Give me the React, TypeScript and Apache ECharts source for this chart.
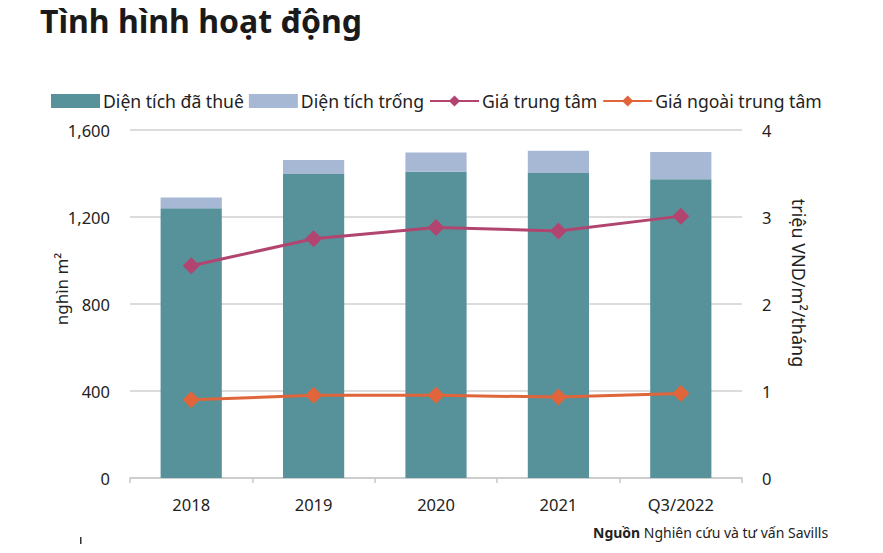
import React, { useEffect, useRef } from "react";
import * as echarts from "echarts";

const categories = ["2018", "2019", "2020", "2021", "Q3/2022"];
const leasedArea = [1240, 1398, 1408, 1402, 1373];
const vacantArea = [50, 64, 88, 103, 126];
const centralPrice = [2.44, 2.75, 2.88, 2.84, 3.01];
const outerPrice = [0.9, 0.95, 0.95, 0.93, 0.97];
const leftTicks = { min: 0, max: 1600, interval: 400 };
const rightTicks = { min: 0, max: 4, interval: 1 };

const FONT = "'Noto Sans', 'Open Sans', sans-serif";

export default function App() {
  const ref = useRef<HTMLDivElement>(null);
  useEffect(() => {
    if (!ref.current) return;
    const chart = echarts.init(ref.current, undefined, { renderer: "svg" });
    chart.setOption({
      animation: false,
      backgroundColor: "#ffffff",
      textStyle: { fontFamily: FONT },
      legend: {
        left: 46,
        top: 87,
        itemWidth: 49,
        itemHeight: 14,
        itemGap: 5,
        textStyle: { fontSize: 17.6, color: "#222", fontFamily: FONT, padding: [0, 0, 0, -2] },
        data: [
          { name: "Diện tích đã thuê", icon: "rect" },
          { name: "Diện tích trống", icon: "rect" },
          { name: "Giá trung tâm" },
          { name: "Giá ngoài trung tâm" },
        ],
      },
      grid: { left: 130, right: 141, top: 130, bottom: 75, containLabel: false },
      xAxis: {
        type: "category",
        data: categories,
        axisLine: { lineStyle: { color: "#c8c8c8", width: 1.5 } },
        axisTick: { show: true, length: 5, lineStyle: { color: "#c8c8c8", width: 1.5 } },
        axisLabel: { fontSize: 16.5, color: "#222", margin: 18, fontFamily: FONT },
      },
      yAxis: [
        {
          type: "value",
          ...leftTicks,
          axisLine: { show: false },
          axisTick: { show: false },
          splitLine: { lineStyle: { color: "#d0d0d0", width: 1.5 } },
          axisLabel: {
            fontSize: 16.5,
            color: "#222",
            margin: 20,
            fontFamily: FONT,
            formatter: (v: number) => v.toLocaleString("en-US"),
          },
        },
        {
          type: "value",
          ...rightTicks,
          axisLine: { show: false },
          axisTick: { show: false },
          splitLine: { show: false },
          axisLabel: { fontSize: 16.5, color: "#222", margin: 20, fontFamily: FONT },
        },
      ],
      graphic: [
        {
          type: "text",
          left: 40,
          top: 4,
          style: {
            text: "Tình hình hoạt động",
            font: `bold 32px ${FONT}`,
            fill: "#1a1a1a",
          },
        },
        {
          type: "text",
          x: 61,
          y: 289,
          rotation: Math.PI / 2,
          style: {
            text: "nghìn m²",
            font: `17px ${FONT}`,
            fill: "#222",
            align: "center",
            verticalAlign: "middle",
          },
        },
        {
          type: "text",
          x: 799,
          y: 283,
          rotation: -Math.PI / 2,
          style: {
            text: "triệu VND/m²/tháng",
            font: `18px ${FONT}`,
            fill: "#222",
            align: "center",
            verticalAlign: "middle",
          },
        },
        {
          type: "text",
          x: 593,
          y: 532,
          style: {
            text: "{b|Nguồn} Nghiên cứu và tư vấn Savills",
            font: `14px ${FONT}`,
            fill: "#222",
            verticalAlign: "middle",
            rich: {
              b: { fontWeight: "bold", fontSize: 14, fontFamily: FONT, fill: "#222" },
            },
          },
        },
        {
          type: "rect",
          shape: { x: 80, y: 537, width: 1.5, height: 7 },
          style: { fill: "#333" },
        },
      ],
      series: [
        {
          name: "Diện tích đã thuê",
          type: "bar",
          stack: "area",
          barWidth: "50%",
          itemStyle: { color: "#57929a" },
          data: leasedArea,
        },
        {
          name: "Diện tích trống",
          type: "bar",
          stack: "area",
          barWidth: "50%",
          itemStyle: { color: "#a6b8d3" },
          data: vacantArea,
        },
        {
          name: "Giá trung tâm",
          type: "line",
          yAxisIndex: 1,
          symbol: "diamond",
          symbolSize: 17,
          lineStyle: { color: "#b2456f", width: 3 },
          itemStyle: { color: "#b2456f" },
          data: centralPrice,
        },
        {
          name: "Giá ngoài trung tâm",
          type: "line",
          yAxisIndex: 1,
          symbol: "diamond",
          symbolSize: 17,
          lineStyle: { color: "#e0653a", width: 3 },
          itemStyle: { color: "#e0653a" },
          data: outerPrice,
        },
      ],
    });
    return () => chart.dispose();
  }, []);
  return (
    <div
      ref={ref}
      style={{ position: "fixed", left: 0, top: 0, width: 883, height: 553 }}
    />
  );
}
